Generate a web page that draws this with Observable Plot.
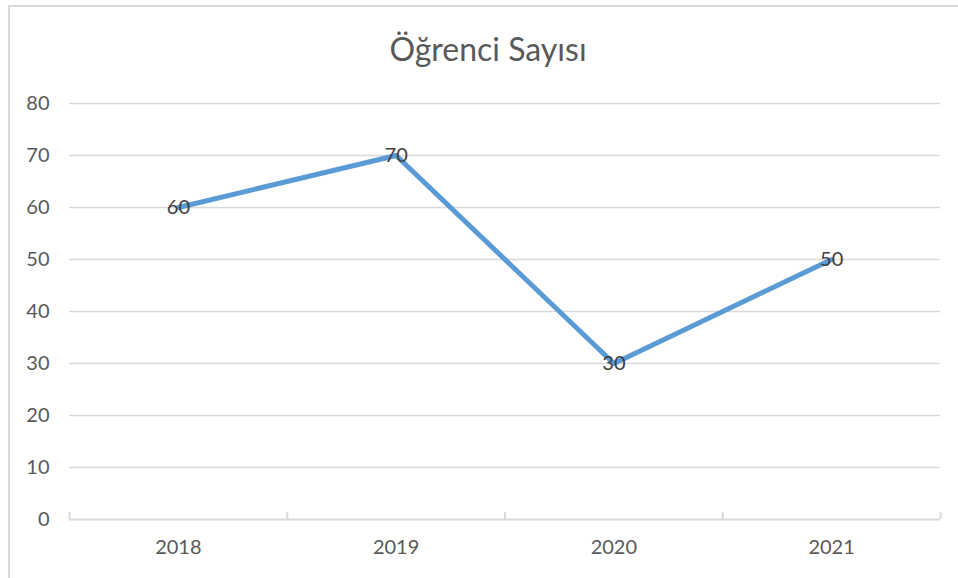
<!DOCTYPE html>
<html>
<head>
<meta charset="utf-8">
<script src="https://cdn.jsdelivr.net/npm/d3@7"></script>
<script src="https://cdn.jsdelivr.net/npm/@observablehq/plot@0.6"></script>
<style>
  html, body { margin: 0; padding: 0; background: #fff; }
  #wrap { position: relative; width: 958px; height: 578px; overflow: hidden; background: #fff; font-family: Lato, "Open Sans", sans-serif; }
  #frame { position: absolute; left: 8px; top: 5px; width: 1000px; height: 1000px; border-left: 2px solid #d9d9d9; border-top: 2px solid #d9d9d9; box-sizing: border-box; }
  #title { position: absolute; left: 0; top: 29px; width: 976px; text-align: center; font-size: 32px; color: #595959; line-height: 40px; }
  #chart { position: absolute; left: 0; top: 0; }
</style>
</head>
<body>
<div id="wrap">
  <div id="frame"></div>
  <div id="title">Öğrenci Sayısı</div>
  <div id="chart"></div>
</div>
<script>
const years = ["2018", "2019", "2020", "2021"];
const values = [60, 70, 30, 50];
const yTicks = [0, 10, 20, 30, 40, 50, 60, 70, 80];

const data = years.map((yr, i) => ({idx: i, year: yr, value: values[i]}));
const boundaries = d3.range(years.length + 1).map(i => i - 0.5);

const chart = Plot.plot({
  width: 958,
  height: 578,
  marginLeft: 69,
  marginRight: 18,
  marginTop: 103,
  marginBottom: 59,
  style: {fontFamily: "Lato, 'Open Sans', sans-serif", background: "transparent", overflow: "visible"},
  x: {type: "linear", domain: [-0.5, years.length - 0.5]},
  y: {domain: [0, 80]},
  marks: [
    Plot.gridY(yTicks.filter(t => t > 0), {stroke: "#d9d9d9", strokeOpacity: 1, strokeWidth: 1.3}),
    Plot.ruleY([0], {stroke: "#d9d9d9", strokeWidth: 2}),
    Plot.ruleX(boundaries, {x: d => d, y1: 0, y2: 0, insetBottom: 7, stroke: "#d9d9d9", strokeWidth: 2}),
    Plot.axisY(yTicks, {tickSize: 0, tickPadding: 20, fontSize: 20, fill: "#595959", label: null}),
    Plot.axisX(d3.range(years.length), {tickSize: 0, tickPadding: 20, fontSize: 20, fill: "#595959", label: null, tickFormat: i => years[i]}),
    Plot.line(data, {x: "idx", y: "value", stroke: "#5b9bd5", strokeWidth: 5, strokeLinejoin: "round", strokeLinecap: "round"}),
    Plot.text(data, {x: "idx", y: "value", text: d => String(d.value), fontSize: 20, fill: "#404040", textAnchor: "middle", lineAnchor: "middle"})
  ]
});
document.getElementById("chart").appendChild(chart);
</script>
</body>
</html>
